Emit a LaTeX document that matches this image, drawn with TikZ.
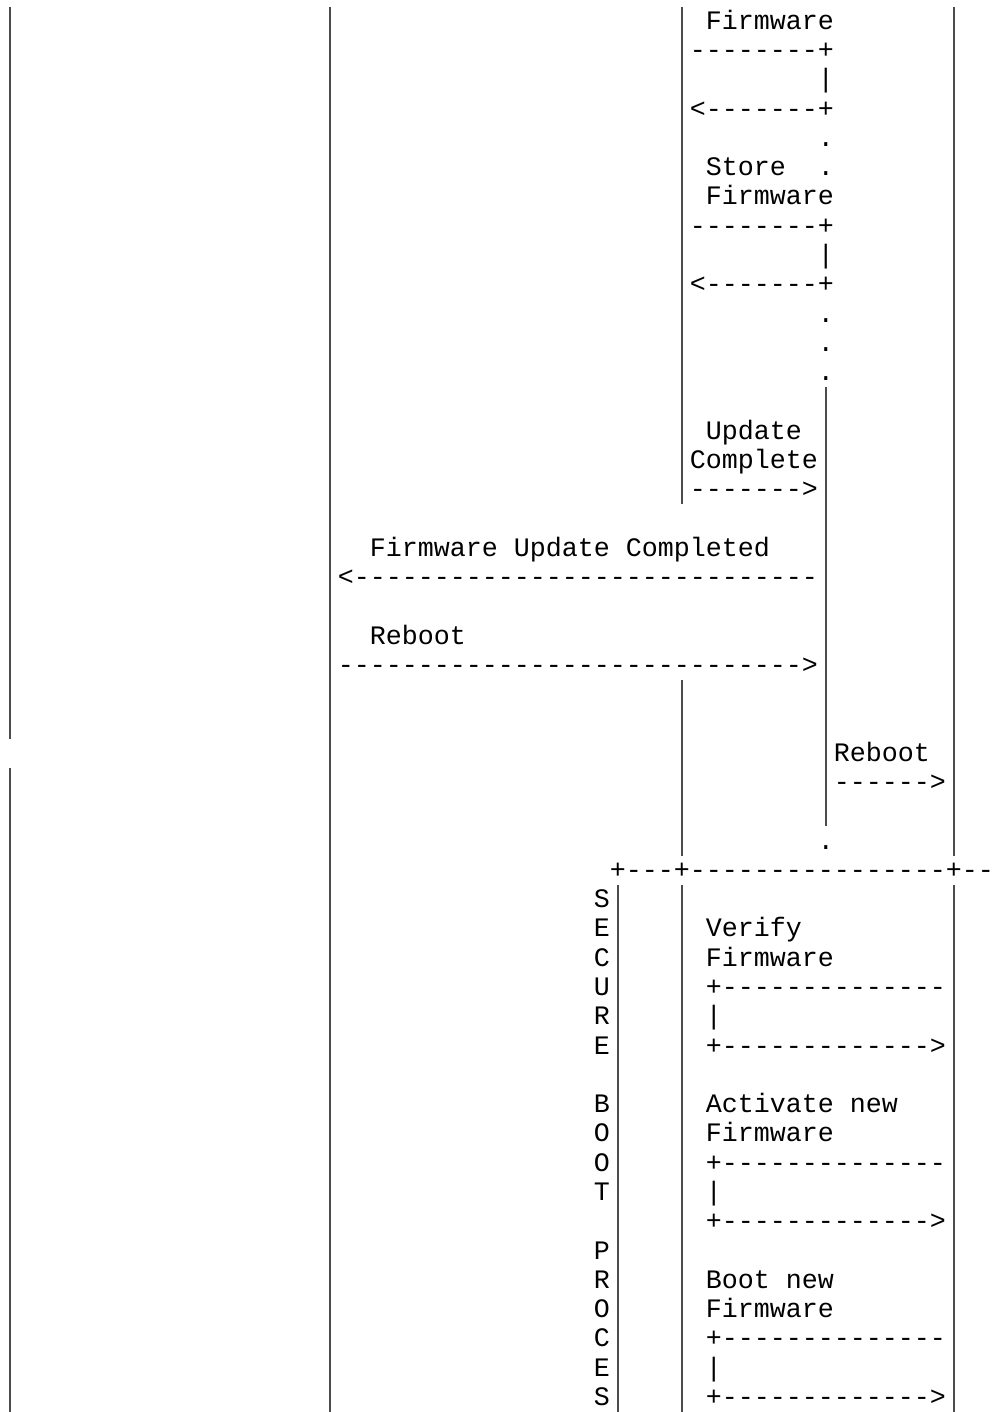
\documentclass[tikz,border=0pt]{standalone}
\usepackage{fontspec}
\newfontfamily\asciifont{Liberation Mono}[Ligatures=TeXOff]
\tikzset{
  ascii/.style={anchor=base west, inner sep=0pt, outer sep=0pt, yshift=-11.35pt,
    font=\asciifont\fontsize{13.333pt}{14.64pt}\selectfont},
  lifeline/.style={draw=black!70, line width=0.8pt}
}
\begin{document}
\begin{tikzpicture}[x=8pt,y=-14.64pt]
 \useasboundingbox (-0.125,-0.225) rectangle (62.375,48);
 % lifelines
 \draw[lifeline] (0.5,0)--(0.5,25);
 \draw[lifeline] (0.5,26)--(0.5,48);
 \draw[lifeline] (20.5,0)--(20.5,48);
 \draw[lifeline] (42.5,0)--(42.5,17);
 \draw[lifeline] (42.5,23)--(42.5,29);
 \draw[lifeline] (42.5,30)--(42.5,48);
 \draw[lifeline] (51.5,13)--(51.5,28);
 \draw[lifeline] (59.5,0)--(59.5,29);
 \draw[lifeline] (59.5,30)--(59.5,48);
 \draw[lifeline] (38.5,30)--(38.5,48);
 % fetch and store firmware
 \node[ascii] (r0) at (44,0) {Firmware};
 \node[ascii] (r1) at (43,1) {--------+};
 \node[ascii] (r2) at (51,2) {|};
 \node[ascii] (r3) at (43,3) {<-------+};
 \node[ascii] (r4) at (51,4) {.};
 \node[ascii] (r5) at (44,5) {Store};
 \node[ascii] (r5d) at (51,5) {.};
 \node[ascii] (r6) at (44,6) {Firmware};
 \node[ascii] (r7) at (43,7) {--------+};
 \node[ascii] (r8) at (51,8) {|};
 \node[ascii] (r9) at (43,9) {<-------+};
 \node[ascii] (r10) at (51,10) {.};
 \node[ascii] (r11) at (51,11) {.};
 \node[ascii] (r12) at (51,12) {.};
 \node[ascii] (r14) at (44,14) {Update};
 \node[ascii] (r15) at (43,15) {Complete};
 \node[ascii] (r16) at (43,16) {------->};
 % messages
 \node[ascii] (r18) at (23,18) {Firmware Update Completed};
 \node[ascii] (r19) at (21,19) {<-----------------------------};
 \node[ascii] (r21) at (23,21) {Reboot};
 \node[ascii] (r22) at (21,22) {----------------------------->};
 \node[ascii] (r25) at (52,25) {Reboot};
 \node[ascii] (r26) at (52,26) {------>};
 \node[ascii] (r28) at (51,28) {.};
 \node[ascii] (r29) at (38,29) {+---+----------------+--};
 % secure boot process
 \node[ascii] (s30) at (37,30) {S};
 \node[ascii] (s31) at (37,31) {E};
 \node[ascii] (s32) at (37,32) {C};
 \node[ascii] (s33) at (37,33) {U};
 \node[ascii] (s34) at (37,34) {R};
 \node[ascii] (s35) at (37,35) {E};
 \node[ascii] (s37) at (37,37) {B};
 \node[ascii] (s38) at (37,38) {O};
 \node[ascii] (s39) at (37,39) {O};
 \node[ascii] (s40) at (37,40) {T};
 \node[ascii] (s42) at (37,42) {P};
 \node[ascii] (s43) at (37,43) {R};
 \node[ascii] (s44) at (37,44) {O};
 \node[ascii] (s45) at (37,45) {C};
 \node[ascii] (s46) at (37,46) {E};
 \node[ascii] (s47) at (37,47) {S};
 \node[ascii] (r31) at (44,31) {Verify};
 \node[ascii] (r32) at (44,32) {Firmware};
 \node[ascii] (r33) at (44,33) {+--------------};
 \node[ascii] (r34) at (44,34) {|};
 \node[ascii] (r35) at (44,35) {+------------->};
 \node[ascii] (r37) at (44,37) {Activate new};
 \node[ascii] (r38) at (44,38) {Firmware};
 \node[ascii] (r39) at (44,39) {+--------------};
 \node[ascii] (r40) at (44,40) {|};
 \node[ascii] (r41) at (44,41) {+------------->};
 \node[ascii] (r43) at (44,43) {Boot new};
 \node[ascii] (r44) at (44,44) {Firmware};
 \node[ascii] (r45) at (44,45) {+--------------};
 \node[ascii] (r46) at (44,46) {|};
 \node[ascii] (r47) at (44,47) {+------------->};
\end{tikzpicture}
\end{document}
